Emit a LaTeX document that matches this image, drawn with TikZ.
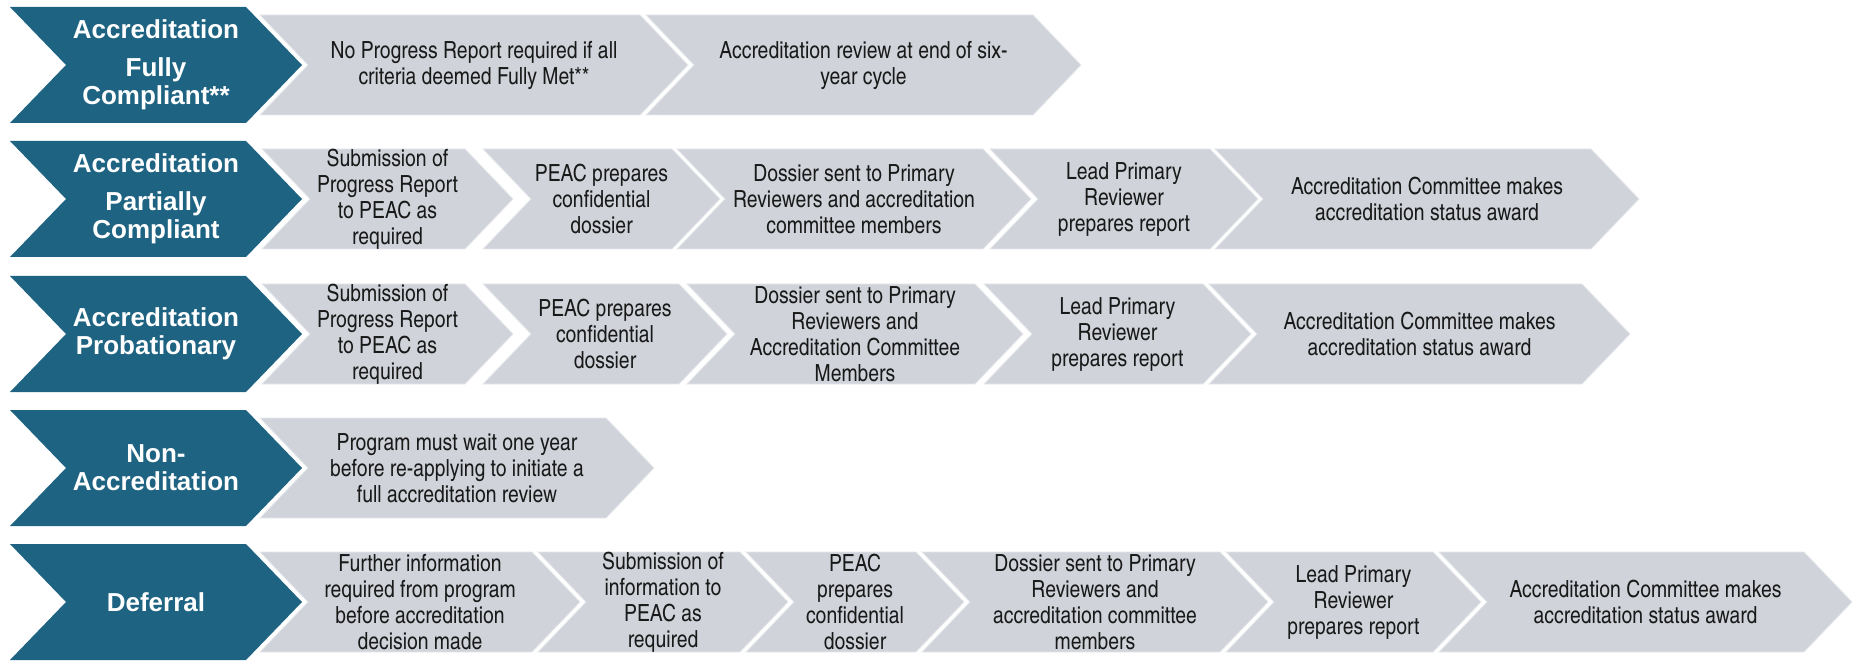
\documentclass[tikz,border=0pt]{standalone}
\usepackage{fontspec}
\setmainfont{Liberation Sans}
\newfontfamily\narrowfont{texgyreheroscn-regular}[Extension=.otf]
\definecolor{outcometeal}{RGB}{30, 100, 130}
\definecolor{stepgray}{RGB}{208, 212, 218}

\begin{document}
\begin{tikzpicture}[x=0.5pt, y=-0.5pt,
  outcome/.style={fill=outcometeal},
  stepshape/.style={fill=stepgray, draw=stepgray!55!white, line width=0.4pt},
  outcometext/.style={text=white, font=\bfseries\fontsize{13}{14}\selectfont, align=center},
  steptext/.style={text=black!90, font=\narrowfont\fontsize{11.8}{13}\selectfont, align=center}]
  \useasboundingbox (0,0) rectangle (1856,662);

  % decision outcomes (left column)
  \foreach \nm/\y/\txt in {full/65/{Accreditation\\[5pt]Fully\\Compliant**},
      partial/199/{Accreditation\\[5pt]Partially\\Compliant},
      prob/334/{Accreditation\\Probationary},
      nonacc/468/{Non-\\Accreditation},
      defer/602/{Deferral}}{
    \fill[outcome] (10,\y-58) -- (246,\y-58) -- (302,\y) -- (246,\y+58) -- (10,\y+58) -- (66,\y) -- cycle;
    \node[outcometext] (\nm) at (156,\y) {\txt};
  }

  % process steps for each outcome
  \foreach \nm/\xa/\xb/\y/\txt in {
      fullA/260/688/65/{No Progress Report required if all\\criteria deemed Fully Met**},
      fullB/646/1081/65/{Accreditation review at end of six-\\year cycle},
      partA/262/513/199/{Submission of\\Progress Report\\to PEAC as\\required},
      partB/483/720/199/{PEAC prepares\\confidential\\dossier},
      partC/677/1031/199/{Dossier sent to Primary\\Reviewers and accreditation\\committee members},
      partD/990/1258/199/{Lead Primary\\Reviewer\\prepares report},
      partE/1215/1639/199/{Accreditation Committee makes\\accreditation status award},
      probA/262/513/334/{Submission of\\Progress Report\\to PEAC as\\required},
      probB/483/727/334/{PEAC prepares\\confidential\\dossier},
      probC/687/1023/334/{Dossier sent to Primary\\Reviewers and\\Accreditation Committee\\Members},
      probD/984/1251/334/{Lead Primary\\Reviewer\\prepares report},
      probE/1209/1630/334/{Accreditation Committee makes\\accreditation status award},
      nonA/260/654/468/{Program must wait one year\\before re-applying to initiate a\\full accreditation review},
      defA/260/580/602/{Further information\\required from program\\before accreditation\\decision made},
      defB/538/788/602/{Submission of\\information to\\PEAC as\\required},
      defC/746/964/602/{PEAC\\prepares\\confidential\\dossier},
      defD/922/1268/602/{Dossier sent to Primary\\Reviewers and\\accreditation committee\\members},
      defE/1226/1481/602/{Lead Primary\\Reviewer\\prepares report},
      defF/1439/1852/602/{Accreditation Committee makes\\accreditation status award}}{
    \path[stepshape] (\xa,\y-50) -- (\xb-48,\y-50) -- (\xb,\y) -- (\xb-48,\y+50) -- (\xa,\y+50) -- (\xa+48,\y) -- cycle;
    \node[steptext] (\nm) at ({(\xa+\xb)/2},\y) {\txt};
  }
\end{tikzpicture}
\end{document}
